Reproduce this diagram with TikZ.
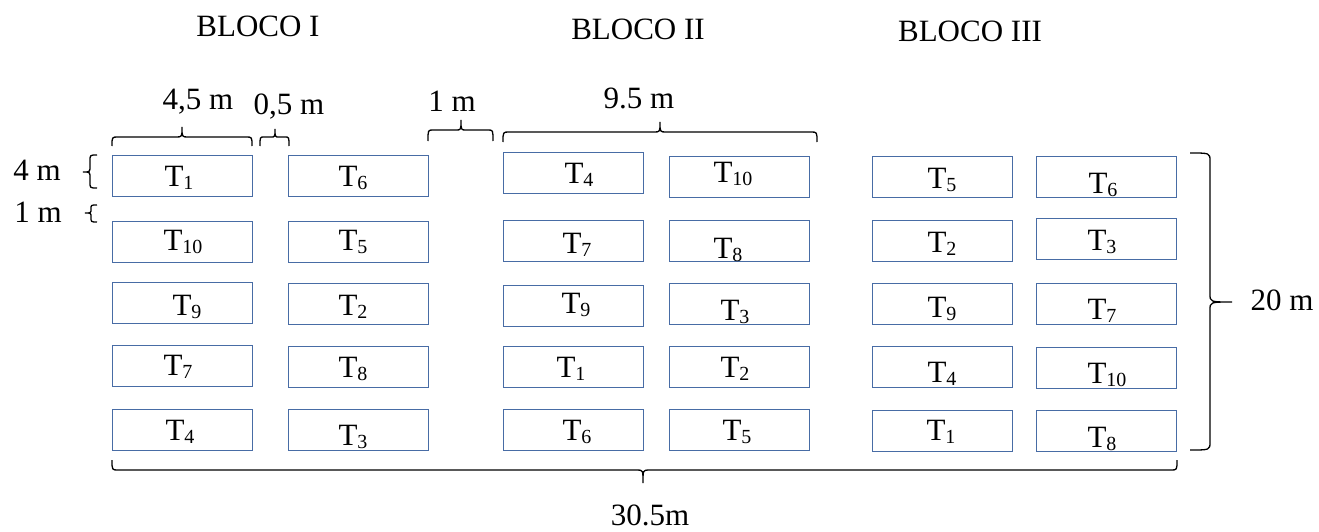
\documentclass[tikz,border=0pt]{standalone}
\usepackage{fontspec}
\setmainfont{Liberation Serif}
\newcommand\sbs[1]{\raisebox{-3pt}{\fontsize{20}{20}\selectfont #1}}
\definecolor{plotblue}{RGB}{72,108,165}
\tikzset{
  plot/.style={draw=plotblue, line width=1.2pt, minimum width=140pt, minimum height=41pt, inner sep=0pt, anchor=north west},
  lab/.style={anchor=base, inner sep=0pt, font=\fontsize{31}{36}\selectfont},
  ttl/.style={anchor=base, inner sep=0pt, font=\fontsize{31}{36}\selectfont},
  brc/.style={draw=black, line width=1.3pt}
}
\begin{document}
\begin{tikzpicture}[x=1pt,y=-1pt]
\useasboundingbox (0,0) rectangle (1319,532);
% titles
\node[ttl] (h1) at (258,37) {BLOCO I};
\node[ttl] (h2) at (638,40) {BLOCO II};
\node[ttl] (h3) at (970,42) {BLOCO III};
% Block I
\node[plot] (a11) at (112,155) {}; \node[lab] (la11) at (179,186) {T\sbs{1}};
\node[plot] (a12) at (288,155) {}; \node[lab] (la12) at (353,186) {T\sbs{6}};
\node[plot] (a21) at (112,221) {}; \node[lab] (la21) at (183,250) {T\sbs{10}};
\node[plot] (a22) at (288,221) {}; \node[lab] (la22) at (353,250) {T\sbs{5}};
\node[plot] (a31) at (112,282) {}; \node[lab] (la31) at (187,315) {T\sbs{9}};
\node[plot] (a32) at (288,283) {}; \node[lab] (la32) at (353,315) {T\sbs{2}};
\node[plot] (a41) at (112,345) {}; \node[lab] (la41) at (178,375) {T\sbs{7}};
\node[plot] (a42) at (288,346) {}; \node[lab] (la42) at (353,377) {T\sbs{8}};
\node[plot] (a51) at (112,409) {}; \node[lab] (la51) at (180,440) {T\sbs{4}};
\node[plot] (a52) at (288,409) {}; \node[lab] (la52) at (353,445) {T\sbs{3}};
% Block II
\node[plot] (b11) at (503,152) {}; \node[lab] (lb11) at (579,183) {T\sbs{4}};
\node[plot] (b12) at (669,156) {}; \node[lab] (lb12) at (733,182) {T\sbs{10}};
\node[plot] (b21) at (503,220) {}; \node[lab] (lb21) at (577,253) {T\sbs{7}};
\node[plot] (b22) at (669,220) {}; \node[lab] (lb22) at (728,258) {T\sbs{8}};
\node[plot] (b31) at (503,285) {}; \node[lab] (lb31) at (576,313) {T\sbs{9}};
\node[plot] (b32) at (669,283) {}; \node[lab] (lb32) at (735,320) {T\sbs{3}};
\node[plot] (b41) at (503,346) {}; \node[lab] (lb41) at (571,377) {T\sbs{1}};
\node[plot] (b42) at (669,346) {}; \node[lab] (lb42) at (735,377) {T\sbs{2}};
\node[plot] (b51) at (503,409) {}; \node[lab] (lb51) at (577,440) {T\sbs{6}};
\node[plot] (b52) at (669,409) {}; \node[lab] (lb52) at (737,440) {T\sbs{5}};
% Block III
\node[plot] (c11) at (872,156) {}; \node[lab] (lc11) at (942,188) {T\sbs{5}};
\node[plot] (c12) at (1036,156) {}; \node[lab] (lc12) at (1103,193) {T\sbs{6}};
\node[plot] (c21) at (872,220) {}; \node[lab] (lc21) at (942,252) {T\sbs{2}};
\node[plot] (c22) at (1036,218) {}; \node[lab] (lc22) at (1102,250) {T\sbs{3}};
\node[plot] (c31) at (872,283) {}; \node[lab] (lc31) at (942,317) {T\sbs{9}};
\node[plot] (c32) at (1036,283) {}; \node[lab] (lc32) at (1102,319) {T\sbs{7}};
\node[plot] (c41) at (872,346) {}; \node[lab] (lc41) at (942,382) {T\sbs{4}};
\node[plot] (c42) at (1036,347) {}; \node[lab] (lc42) at (1107,383) {T\sbs{10}};
\node[plot] (c51) at (872,410) {}; \node[lab] (lc51) at (941,440) {T\sbs{1}};
\node[plot] (c52) at (1036,410) {}; \node[lab] (lc52) at (1102,447) {T\sbs{8}};
% dimension labels
\node[lab] (d45) at (198,110) {4,5 m};
\node[lab] (d05) at (289,115) {0,5 m};
\node[lab] (d1) at (452,112) {1 m};
\node[lab] (d95) at (639,109) {9.5 m};
\node[lab] (d305) at (650,525) {30.5m};
\node[lab] (d20) at (1282,310) {20 m};
\node[lab] (d4) at (37,180) {4 m};
\node[lab] (d1l) at (38,222) {1 m};
% braces (top, tip up)
\draw[brc] (112,146) .. controls (112,137) .. (118,137) -- (176,137) .. controls (182,137) .. (182,127) .. controls (182,137) .. (188,137) -- (246,137) .. controls (252,137) .. (252,146);
\draw[brc] (260,146) .. controls (260,137) .. (264,137) -- (271,137) .. controls (275,137) .. (275,129) .. controls (275,137) .. (279,137) -- (285,137) .. controls (289,137) .. (289,146);
\draw[brc] (428,141) .. controls (428,130) .. (433,130) -- (456,130) .. controls (461,130) .. (461,120) .. controls (461,130) .. (466,130) -- (488,130) .. controls (493,130) .. (493,141);
\draw[brc] (503,142) .. controls (503,132) .. (509,132) -- (654,132) .. controls (660,132) .. (660,122) .. controls (660,132) .. (666,132) -- (811,132) .. controls (817,132) .. (817,142);
% bottom brace (tip down)
\draw[brc] (112,460) .. controls (112,470) .. (118,470) -- (637,470) .. controls (643,470) .. (643,483) .. controls (643,470) .. (649,470) -- (1171,470) .. controls (1177,470) .. (1177,460);
% right brace (tip right)
\draw[brc] (1190,153) .. controls (1210,153) .. (1210,161) -- (1210,294) .. controls (1210,302) .. (1232,302) .. controls (1210,302) .. (1210,310) -- (1210,442) .. controls (1210,450) .. (1190,450);
% left braces
\draw[brc] (97,155) .. controls (90,155) .. (90,161) -- (90,166) .. controls (90,172) .. (83,172) .. controls (90,172) .. (90,178) -- (90,182) .. controls (90,188) .. (97,188);
\draw[brc] (97,205) .. controls (91,205) .. (91,209) .. controls (91,213) .. (85,213) .. controls (91,213) .. (91,217) .. controls (91,222) .. (97,222);
\end{tikzpicture}
\end{document}
